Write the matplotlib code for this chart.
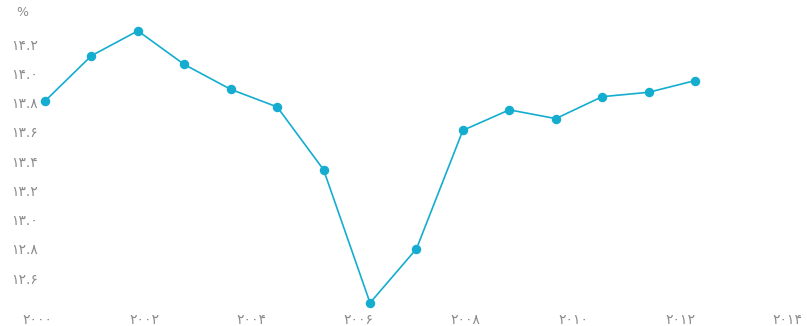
import numpy as np
import matplotlib.pyplot as plt

# valeurs (%)
annees = list(range(2000, 2015))
valeurs = [13.81, 14.12, 14.29, 14.06, 13.89, 13.77, 13.34, 12.43,
           12.80, 13.61, 13.75, 13.69, 13.84, 13.87, 13.95]

yticks = [12.6, 12.8, 13.0, 13.2, 13.4, 13.6, 13.8, 14.0, 14.2]
xtick_annees = [2000, 2002, 2004, 2006, 2008, 2010, 2012, 2014]

chiffres = str.maketrans('0123456789', '۰۱۲۳۴۵۶۷۸۹')


def fa(s):
    return str(s).translate(chiffres)


couleur = '#14add0'
gris = '#8c8c8c'

fig = plt.figure(figsize=(8.07, 3.26), dpi=100)
ax = fig.add_axes([0, 0, 1, 1])

x = np.arange(len(annees))
ax.plot(x, valeurs, color=couleur, lw=1.2, marker='o', ms=5.8, clip_on=False)

# les étiquettes d'années ne tombent pas sur les points dans l'original
xtick_pos = -0.17 + 2.308 * np.arange(len(xtick_annees))
ax.set_xticks(xtick_pos)
ax.set_xticklabels([fa(a) for a in xtick_annees])
ax.set_yticks(yticks)
ax.set_yticklabels([fa(f'{v:.1f}') for v in yticks])

ax.set_xlim(-0.969, 16.41)
ax.set_ylim(12.272, 14.501)

ax.tick_params(axis='y', length=0, pad=-27.4, labelsize=10, labelcolor=gris)
ax.tick_params(axis='x', length=0, pad=-9.0, labelsize=10, labelcolor=gris)
for s in ax.spines.values():
    s.set_visible(False)

fig.text(22 / 807, 1 - 13 / 326, '%', ha='center', va='center',
         fontsize=9, color=gris)

fig.savefig('out.png', dpi=100)
